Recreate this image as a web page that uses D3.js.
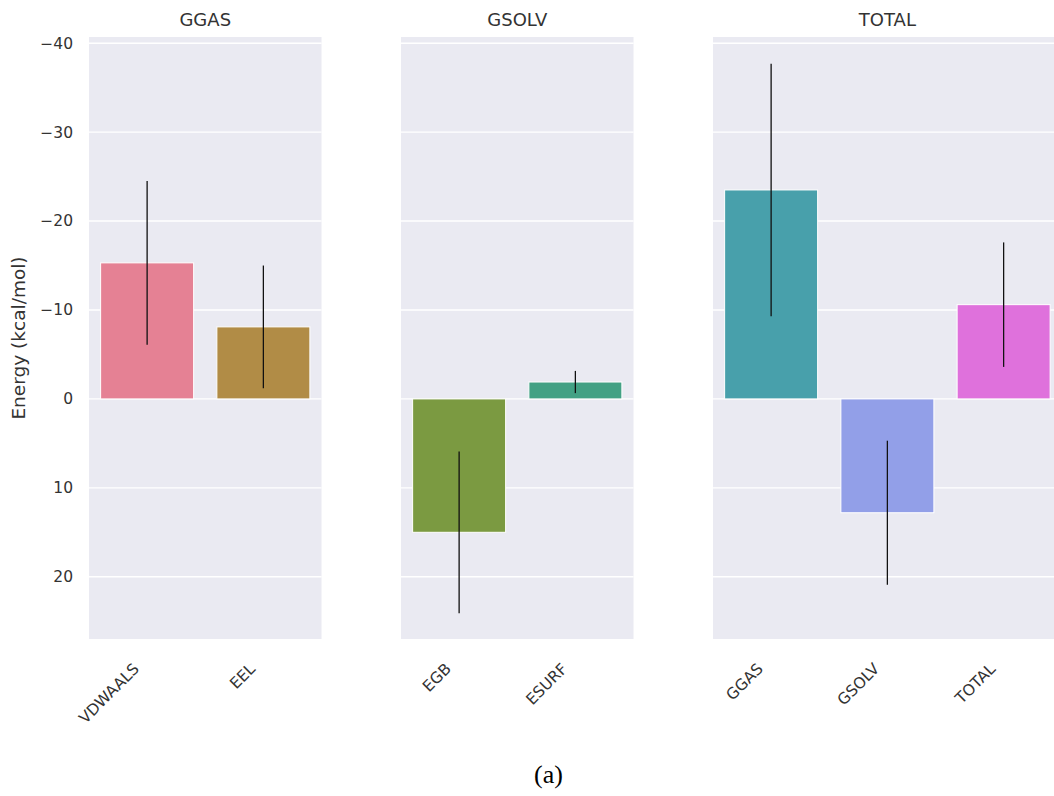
<!DOCTYPE html>
<html>
<head>
<meta charset="utf-8">
<script src="https://cdn.jsdelivr.net/npm/d3@7"></script>
<style>
  html, body { margin: 0; padding: 0; background: #fff; }
  svg { display: block; font-family: "DejaVu Sans", sans-serif; }
</style>
</head>
<body>
<svg id="chart" width="1054" height="796"></svg>
<script>
// Energy decomposition terms, grouped per panel
const panelTitles = ["GGAS", "GSOLV", "TOTAL"];
const ggasTerms  = ["VDWAALS", "EEL"];
const gsolvTerms = ["EGB", "ESURF"];
const totalTerms = ["GGAS", "GSOLV", "TOTAL"];

// Mean energies (kcal/mol)
const ggasMeans  = [-15.3, -8.1];
const gsolvMeans = [15.0, -1.9];
const totalMeans = [-23.5, 12.8, -10.6];

// Error bar half-widths (kcal/mol)
const ggasErr  = [9.2, 6.9];
const gsolvErr = [9.1, 1.25];
const totalErr = [14.2, 8.1, 7.0];

const barColors = [
  ["#e58194", "#b18c46"],
  ["#7b9a41", "#43a184"],
  ["#48a0ab", "#929fe8", "#df71dc"]
];

const yTicks = [-40, -30, -20, -10, 0, 10, 20];

const panels = [
  { title: panelTitles[0], terms: ggasTerms,  means: ggasMeans,  err: ggasErr,  colors: barColors[0] },
  { title: panelTitles[1], terms: gsolvTerms, means: gsolvMeans, err: gsolvErr, colors: barColors[1] },
  { title: panelTitles[2], terms: totalTerms, means: totalMeans, err: totalErr, colors: barColors[2] }
];

const svg = d3.select("#chart");
const plotTop = 37, plotBottom = 639;
const catWidth = 116.25;
const panelLefts = [89, 401, 713];

// Inverted energy axis: negative (favourable) values point upward
const y = d3.scaleLinear().domain([-40.7, 27.0]).range([plotTop, plotBottom]);

panels.forEach((p, i) => {
  const x0 = panelLefts[i];
  const w = catWidth * p.terms.length;
  const x = d3.scaleBand().domain(p.terms).range([x0, x0 + w]).paddingInner(0.2).paddingOuter(0.1);
  const g = svg.append("g");

  g.append("rect")
    .attr("x", x0).attr("y", plotTop)
    .attr("width", w).attr("height", plotBottom - plotTop)
    .attr("fill", "#eaeaf2");

  g.selectAll("line.grid").data(yTicks).enter().append("line")
    .attr("class", "grid")
    .attr("x1", x0).attr("x2", x0 + w)
    .attr("y1", d => y(d)).attr("y2", d => y(d))
    .attr("stroke", "#fff").attr("stroke-width", 1.4);

  g.selectAll("rect.bar").data(p.means).enter().append("rect")
    .attr("class", "bar")
    .attr("x", (d, j) => x(p.terms[j]))
    .attr("width", x.bandwidth())
    .attr("y", d => Math.min(y(d), y(0)))
    .attr("height", d => Math.abs(y(d) - y(0)))
    .attr("fill", (d, j) => p.colors[j])
    .attr("stroke", "#fff").attr("stroke-width", 1);

  g.selectAll("line.err").data(p.means).enter().append("line")
    .attr("class", "err")
    .attr("x1", (d, j) => x(p.terms[j]) + x.bandwidth() / 2)
    .attr("x2", (d, j) => x(p.terms[j]) + x.bandwidth() / 2)
    .attr("y1", (d, j) => y(d - p.err[j]))
    .attr("y2", (d, j) => y(d + p.err[j]))
    .attr("stroke", "#111").attr("stroke-width", 1.3);

  g.append("text")
    .attr("x", x0 + w / 2)
    .attr("y", 25.5)
    .attr("text-anchor", "middle")
    .attr("font-size", 18)
    .attr("fill", "#333")
    .text(p.title);

  // Rotated category labels
  p.terms.forEach(t => {
    const cx = x(t) + x.bandwidth() / 2;
    g.append("text")
      .attr("transform", `translate(${cx - 11},${plotBottom + 27}) rotate(-45)`)
      .attr("text-anchor", "end")
      .attr("dy", "0.35em")
      .attr("font-size", 15.5)
      .attr("fill", "#333")
      .text(t);
  });
});

// Y axis tick labels, shared on the first panel
const fmt = d => (d < 0 ? "\u2212" + Math.abs(d) : String(d));
svg.append("g").selectAll("text").data(yTicks).enter().append("text")
  .attr("x", 73).attr("y", d => y(d))
  .attr("dy", "0.35em")
  .attr("text-anchor", "end")
  .attr("font-size", 15.5)
  .attr("fill", "#333")
  .text(fmt);

svg.append("text")
  .attr("transform", `translate(25,338) rotate(-90)`)
  .attr("text-anchor", "middle")
  .attr("font-size", 18.5)
  .attr("fill", "#333")
  .text("Energy (kcal/mol)");

svg.append("text")
  .attr("x", 548.5).attr("y", 783)
  .attr("text-anchor", "middle")
  .attr("font-family", "Liberation Serif, serif")
  .attr("font-size", 26)
  .attr("fill", "#000")
  .text("(a)");
</script>
</body>
</html>
